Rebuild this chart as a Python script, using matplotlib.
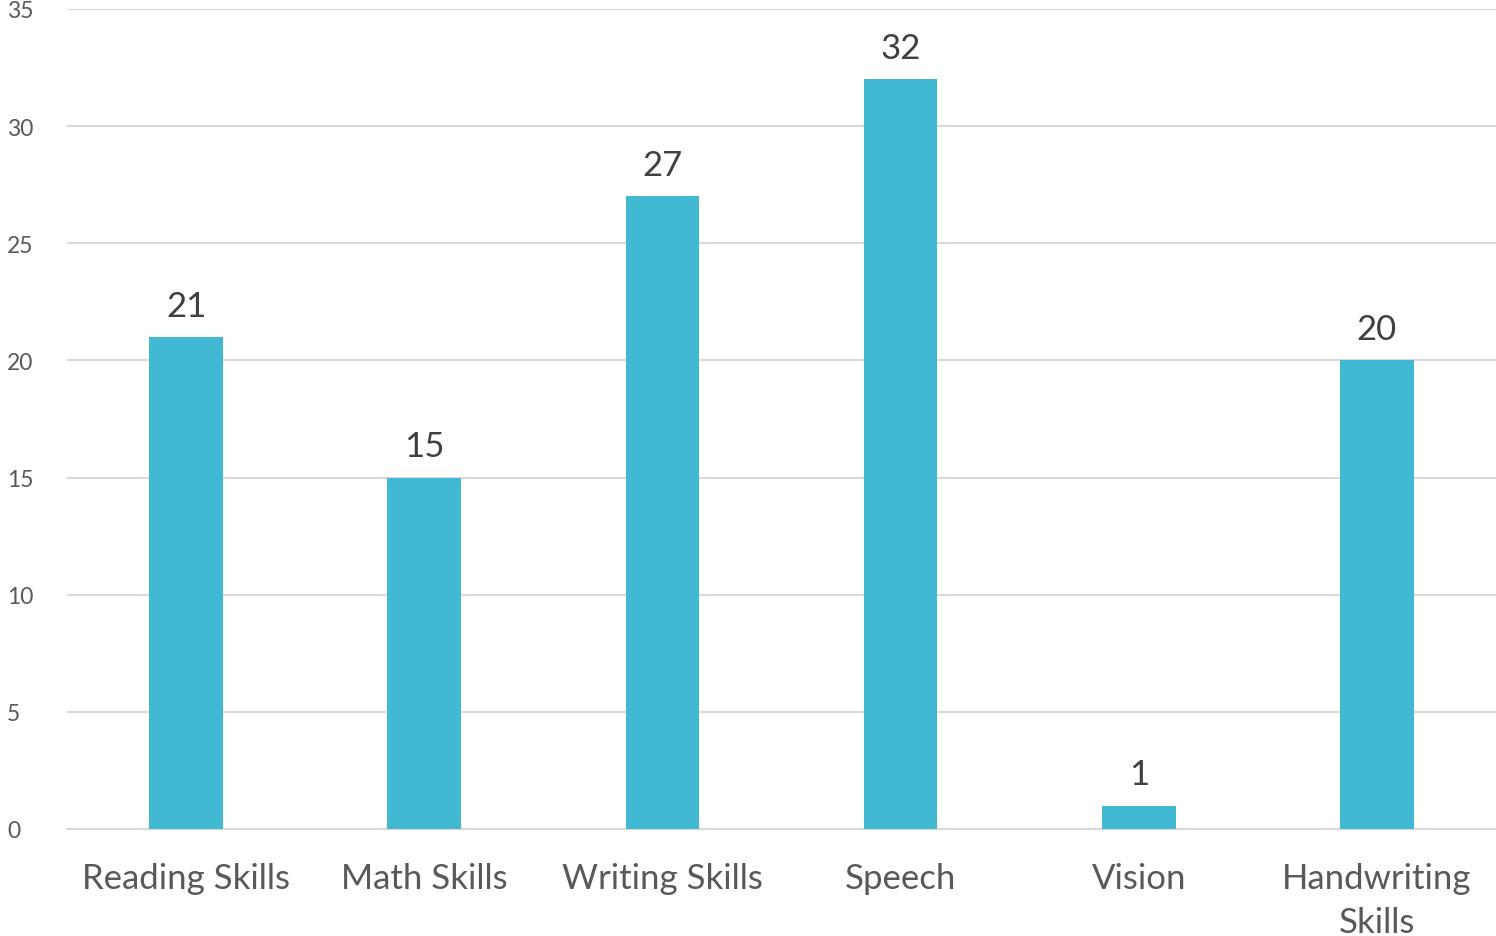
import matplotlib
matplotlib.use("Agg")
import matplotlib.pyplot as plt

categories = ["Reading Skills", "Math Skills", "Writing Skills", "Speech", "Vision", "Handwriting\nSkills"]
values = [21, 15, 27, 32, 1, 20]
yticks = [0, 5, 10, 15, 20, 25, 30, 35]

plt.rcParams['font.family'] = ['Lato', 'DejaVu Sans']

fig = plt.figure(figsize=(14.96, 9.37), dpi=100)
ax = fig.add_axes([67/1496, 107/937, 1 - 67/1496, (830-10)/937])

x = list(range(len(categories)))
bars = ax.bar(x, values, width=0.31, color="#41B9D3", zorder=3)
for xi, v in zip(x, values):
    ax.text(xi, v + 0.65, str(v), ha="center", va="bottom", fontsize=25, color="#404040")

ax.set_xlim(-0.5, len(categories) - 0.5)
ax.set_ylim(0, 35)
ax.set_yticks(yticks)
ax.set_yticklabels([str(t) for t in yticks], fontsize=16.5, color="#595959")
ax.set_xticks(x)
ax.set_xticklabels(categories, fontsize=25, color="#595959", linespacing=1.45)
ax.tick_params(axis="both", length=0)
ax.tick_params(axis="x", pad=24)
ax.tick_params(axis="y", pad=43)
for lbl in ax.get_yticklabels():
    lbl.set_horizontalalignment("left")
ax.grid(axis="y", color="#D9D9D9", linewidth=1.5, zorder=0)
for s in ["top", "right", "left"]:
    ax.spines[s].set_visible(False)
ax.spines["bottom"].set_color("#D9D9D9")
ax.spines["bottom"].set_linewidth(1.5)

fig.savefig("out.png", dpi=100)
